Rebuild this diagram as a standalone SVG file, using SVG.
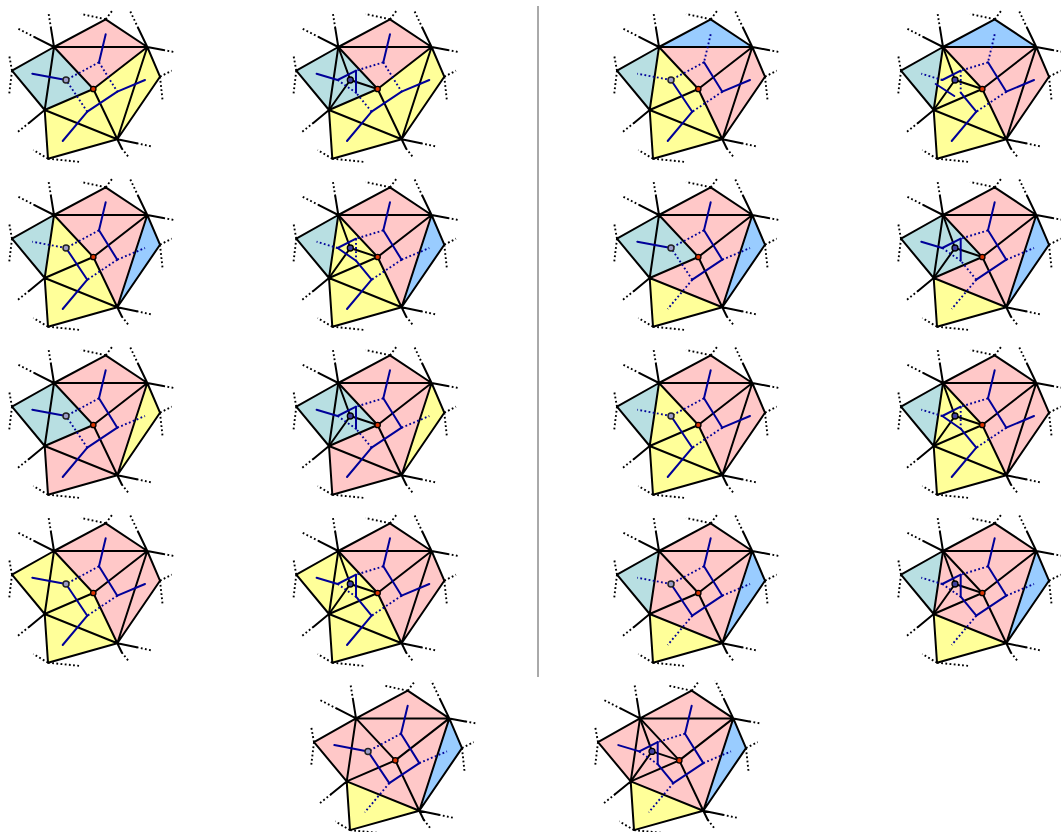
<svg xmlns="http://www.w3.org/2000/svg" width="1061" height="832" viewBox="0 0 1061 832">
<style>
.p{fill:#ffc8c8}.c{fill:#b8dfe2}.y{fill:#ffff99}.b{fill:#99ccff}
.k{fill:none;stroke:#000;stroke-width:2;stroke-linecap:round;stroke-linejoin:round}
.kd{fill:none;stroke:#000;stroke-width:1.9;stroke-dasharray:1.8 2.4}
.s{fill:none;stroke:#000099;stroke-width:2;stroke-linecap:round;stroke-linejoin:round}
.d{fill:none;stroke:#000099;stroke-width:1.9;stroke-dasharray:1.8 2.4}
.o{stroke:#000;stroke-width:1.3}
.pn{fill:#9c9cc8;stroke:#222;stroke-width:1.5}
.ps{fill:#4040a0;stroke:#000;stroke-width:1.3}
</style>
<defs>
<polygon id="fT" points="54,47 105.7,19.3 147.3,47"/>
<polygon id="fUC" points="54,47 147.3,47 93.3,89"/>
<polygon id="fL" points="12,70.7 54,47 44.7,110"/>
<polygon id="fU" points="54,47 93.3,89 44.7,110"/>
<polygon id="fLC" points="44.7,110 93.3,89 117.3,139.3"/>
<polygon id="fCAB" points="93.3,89 147.3,47 117.3,139.3"/>
<polygon id="fAR" points="147.3,47 160,76.7 117.3,139.3"/>
<polygon id="fB" points="44.7,110 117.3,139.3 48,158.7"/>
<g id="base">
<path class="k" d="M54,47L105.7,19.3L147.3,47L160,76.7L117.3,139.3L48,158.7L44.7,110L12,70.7L54,47ZM54,47H147.3L93.3,89L54,47L44.7,110L93.3,89L117.3,139.3L147.3,47M44.7,110L117.3,139.3M54,47L51,28.3M54,47L35,37.3M147.3,47L138.3,28.3M147.3,47L163.3,50M117.3,139.3L136.7,143.3M117.3,139.3L121.7,148.3M44.7,110L29.3,122.7"/>
<path class="kd" d="M51,28.3L48.3,11.7M35,37.3L17.3,28.3M105.7,19.3L81,14M105.7,19.3L113.3,9.3M138.3,28.3L129.3,9.3M163.3,50L175.7,52.3M160,76.7L171.7,70.7M160,76.7L162.7,101.7M136.7,143.3L152.7,146.7M121.7,148.3L128.3,156.7M48,158.7L33.3,150M48,158.7L80.7,162M29.3,122.7L16.7,132.7M12,70.7L9,54.3M12,70.7L9,95.7"/>
</g>
<path id="spk" class="k" d="M66,80L54,47M66,80L44.7,110M66,80L93.3,89"/>
<path id="e1" d="M105.7,34.3L99,62.3"/>
<path id="e2" d="M117.3,91.7L145,80"/>
<path id="e3" d="M87.3,111.7L62.7,141"/>
<path id="e4" d="M99,62.3L117.3,91.7"/>
<path id="e5" d="M117.3,91.7L87.3,111.7"/>
<path id="e6" d="M66,80L32.3,73.7"/>
<path id="e7" d="M99,62.3L66,80"/>
<path id="e8" d="M87.3,111.7L66,80"/>
<path id="e6x" d="M53.3,80L32.3,73.7"/>
<path id="e7x" d="M99,62.3L71.7,70.7"/>
<path id="e8x" d="M87.3,111.7L71.7,92.7"/>
<path id="e9" d="M71.7,70.7L53.3,80"/>
<path id="e10" d="M53.3,80L71.7,92.7"/>
<path id="e11" d="M71.7,70.7V92.7"/>
<g id="n"><circle class="pn" cx="66" cy="80" r="3"/><circle class="o" fill="#dd3300" cx="93.3" cy="89" r="2.7"/></g>
<g id="x"><circle class="ps" cx="66" cy="80" r="3"/><circle class="o" fill="#dd3300" cx="93.3" cy="89" r="2.7"/></g>
</defs>

<line id="divider" x1="538" y1="6" x2="538" y2="677" stroke="#555" stroke-width="1"/>

<g id="panel-r1c1" transform="translate(0,0)">
<use href="#fT" class="p"/><use href="#fUC" class="p"/><use href="#fL" class="c"/><use href="#fU" class="c"/><use href="#fLC" class="y"/><use href="#fCAB" class="y"/><use href="#fAR" class="y"/><use href="#fB" class="y"/>
<use href="#base"/>
<g class="s"><use href="#e1"/><use href="#e2"/><use href="#e3"/><use href="#e5"/><use href="#e6"/></g>
<g class="d"><use href="#e4"/><use href="#e7"/><use href="#e8"/></g>
<use href="#n"/>
</g>
<g id="panel-r1c2" transform="translate(284.3,0)">
<use href="#fT" class="p"/><use href="#fUC" class="p"/><use href="#fL" class="c"/><use href="#fU" class="c"/><use href="#fLC" class="y"/><use href="#fCAB" class="y"/><use href="#fAR" class="y"/><use href="#fB" class="y"/>
<use href="#base"/><use href="#spk"/>
<g class="s"><use href="#e1"/><use href="#e2"/><use href="#e3"/><use href="#e5"/><use href="#e6x"/><use href="#e9"/><use href="#e11"/></g>
<g class="d"><use href="#e4"/><use href="#e7x"/><use href="#e8x"/><use href="#e10"/></g>
<use href="#x"/>
</g>
<g id="panel-r1c3" transform="translate(605,0)">
<use href="#fT" class="b"/><use href="#fUC" class="p"/><use href="#fL" class="c"/><use href="#fU" class="y"/><use href="#fLC" class="y"/><use href="#fCAB" class="p"/><use href="#fAR" class="p"/><use href="#fB" class="y"/>
<use href="#base"/>
<g class="s"><use href="#e2"/><use href="#e3"/><use href="#e4"/><use href="#e8"/></g>
<g class="d"><use href="#e1"/><use href="#e5"/><use href="#e6"/><use href="#e7"/></g>
<use href="#n"/>
</g>
<g id="panel-r1c4" transform="translate(889,0)">
<use href="#fT" class="b"/><use href="#fUC" class="p"/><use href="#fL" class="c"/><use href="#fU" class="y"/><use href="#fLC" class="y"/><use href="#fCAB" class="p"/><use href="#fAR" class="p"/><use href="#fB" class="y"/>
<use href="#base"/><use href="#spk"/>
<g class="s"><use href="#e2"/><use href="#e3"/><use href="#e4"/><use href="#e8x"/><use href="#e9"/><path d="M46.7,84L65.3,96"/></g>
<g class="d"><use href="#e1"/><use href="#e5"/><use href="#e6x"/><use href="#e7x"/><use href="#e11"/></g>
<use href="#x"/>
</g>

<g id="panel-r2c1" transform="translate(0,168)">
<use href="#fT" class="p"/><use href="#fUC" class="p"/><use href="#fL" class="c"/><use href="#fU" class="y"/><use href="#fLC" class="y"/><use href="#fCAB" class="p"/><use href="#fAR" class="b"/><use href="#fB" class="y"/>
<use href="#base"/>
<g class="s"><use href="#e1"/><use href="#e3"/><use href="#e4"/><use href="#e8"/></g>
<g class="d"><use href="#e2"/><use href="#e5"/><use href="#e6"/><use href="#e7"/></g>
<use href="#n"/>
</g>
<g id="panel-r2c2" transform="translate(284.3,168)">
<use href="#fT" class="p"/><use href="#fUC" class="p"/><use href="#fL" class="c"/><use href="#fU" class="y"/><use href="#fLC" class="y"/><use href="#fCAB" class="p"/><use href="#fAR" class="b"/><use href="#fB" class="y"/>
<use href="#base"/><use href="#spk"/>
<g class="s"><use href="#e1"/><use href="#e3"/><use href="#e4"/><use href="#e8x"/><use href="#e9"/><use href="#e10"/></g>
<g class="d"><use href="#e2"/><use href="#e5"/><use href="#e6x"/><use href="#e7x"/><use href="#e11"/></g>
<use href="#x"/>
</g>
<g id="panel-r2c3" transform="translate(605,168)">
<use href="#fT" class="p"/><use href="#fUC" class="p"/><use href="#fL" class="c"/><use href="#fU" class="c"/><use href="#fLC" class="p"/><use href="#fCAB" class="p"/><use href="#fAR" class="b"/><use href="#fB" class="y"/>
<use href="#base"/>
<g class="s"><use href="#e1"/><use href="#e4"/><use href="#e5"/><use href="#e6"/></g>
<g class="d"><use href="#e2"/><use href="#e3"/><use href="#e7"/><use href="#e8"/></g>
<use href="#n"/>
</g>
<g id="panel-r2c4" transform="translate(889,168)">
<use href="#fT" class="p"/><use href="#fUC" class="p"/><use href="#fL" class="c"/><use href="#fU" class="c"/><use href="#fLC" class="p"/><use href="#fCAB" class="p"/><use href="#fAR" class="b"/><use href="#fB" class="y"/>
<use href="#base"/><use href="#spk"/>
<g class="s"><use href="#e1"/><use href="#e4"/><use href="#e5"/><use href="#e6x"/><use href="#e9"/><use href="#e11"/></g>
<g class="d"><use href="#e2"/><use href="#e3"/><use href="#e7x"/><use href="#e8x"/><use href="#e10"/></g>
<use href="#x"/>
</g>

<g id="panel-r3c1" transform="translate(0,336)">
<use href="#fT" class="p"/><use href="#fUC" class="p"/><use href="#fL" class="c"/><use href="#fU" class="c"/><use href="#fLC" class="p"/><use href="#fCAB" class="p"/><use href="#fAR" class="y"/><use href="#fB" class="p"/>
<use href="#base"/>
<g class="s"><use href="#e1"/><use href="#e3"/><use href="#e4"/><use href="#e5"/><use href="#e6"/></g>
<g class="d"><use href="#e2"/><use href="#e7"/><use href="#e8"/></g>
<use href="#n"/>
</g>
<g id="panel-r3c2" transform="translate(284.3,336)">
<use href="#fT" class="p"/><use href="#fUC" class="p"/><use href="#fL" class="c"/><use href="#fU" class="c"/><use href="#fLC" class="p"/><use href="#fCAB" class="p"/><use href="#fAR" class="y"/><use href="#fB" class="p"/>
<use href="#base"/><use href="#spk"/>
<g class="s"><use href="#e1"/><use href="#e3"/><use href="#e4"/><use href="#e5"/><use href="#e6x"/><use href="#e9"/><use href="#e11"/></g>
<g class="d"><use href="#e2"/><use href="#e7x"/><use href="#e8x"/><use href="#e10"/></g>
<use href="#x"/>
</g>
<g id="panel-r3c3" transform="translate(605,336)">
<use href="#fT" class="p"/><use href="#fUC" class="p"/><use href="#fL" class="c"/><use href="#fU" class="y"/><use href="#fLC" class="y"/><use href="#fCAB" class="p"/><use href="#fAR" class="p"/><use href="#fB" class="y"/>
<use href="#base"/>
<g class="s"><use href="#e1"/><use href="#e2"/><use href="#e3"/><use href="#e4"/><use href="#e8"/></g>
<g class="d"><use href="#e5"/><use href="#e6"/><use href="#e7"/></g>
<use href="#n"/>
</g>
<g id="panel-r3c4" transform="translate(889,336)">
<use href="#fT" class="p"/><use href="#fUC" class="p"/><use href="#fL" class="c"/><use href="#fU" class="y"/><use href="#fLC" class="y"/><use href="#fCAB" class="p"/><use href="#fAR" class="p"/><use href="#fB" class="y"/>
<use href="#base"/><use href="#spk"/>
<g class="s"><use href="#e1"/><use href="#e2"/><use href="#e3"/><use href="#e4"/><use href="#e8x"/><use href="#e9"/><use href="#e10"/></g>
<g class="d"><use href="#e5"/><use href="#e6x"/><use href="#e7x"/><use href="#e11"/></g>
<use href="#x"/>
</g>

<g id="panel-r4c1" transform="translate(0,504)">
<use href="#fT" class="p"/><use href="#fUC" class="p"/><use href="#fL" class="y"/><use href="#fU" class="y"/><use href="#fLC" class="y"/><use href="#fCAB" class="p"/><use href="#fAR" class="p"/><use href="#fB" class="y"/>
<use href="#base"/>
<g class="s"><use href="#e1"/><use href="#e2"/><use href="#e3"/><use href="#e4"/><use href="#e6"/><use href="#e8"/></g>
<g class="d"><use href="#e5"/><use href="#e7"/></g>
<use href="#n"/>
</g>
<g id="panel-r4c2" transform="translate(284.3,504)">
<use href="#fT" class="p"/><use href="#fUC" class="p"/><use href="#fL" class="y"/><use href="#fU" class="y"/><use href="#fLC" class="y"/><use href="#fCAB" class="p"/><use href="#fAR" class="p"/><use href="#fB" class="y"/>
<use href="#base"/><use href="#spk"/>
<g class="s"><use href="#e1"/><use href="#e2"/><use href="#e3"/><use href="#e4"/><use href="#e6x"/><use href="#e8x"/><use href="#e9"/><use href="#e11"/></g>
<g class="d"><use href="#e5"/><use href="#e7x"/><use href="#e10"/></g>
<use href="#x"/>
</g>
<g id="panel-r4c3" transform="translate(605,504)">
<use href="#fT" class="p"/><use href="#fUC" class="p"/><use href="#fL" class="c"/><use href="#fU" class="p"/><use href="#fLC" class="p"/><use href="#fCAB" class="p"/><use href="#fAR" class="b"/><use href="#fB" class="y"/>
<use href="#base"/>
<g class="s"><use href="#e1"/><use href="#e4"/><use href="#e5"/><use href="#e8"/></g>
<g class="d"><use href="#e2"/><use href="#e3"/><use href="#e6"/><use href="#e7"/></g>
<use href="#n"/>
</g>
<g id="panel-r4c4" transform="translate(889,504)">
<use href="#fT" class="p"/><use href="#fUC" class="p"/><use href="#fL" class="c"/><use href="#fU" class="p"/><use href="#fLC" class="p"/><use href="#fCAB" class="p"/><use href="#fAR" class="b"/><use href="#fB" class="y"/>
<use href="#base"/><use href="#spk"/>
<g class="s"><use href="#e1"/><use href="#e4"/><use href="#e5"/><use href="#e8x"/><use href="#e9"/><use href="#e11"/></g>
<g class="d"><use href="#e2"/><use href="#e3"/><use href="#e6x"/><use href="#e7x"/><use href="#e10"/></g>
<use href="#x"/>
</g>

<g id="panel-r5c1" transform="translate(302,671.4)">
<use href="#fT" class="p"/><use href="#fUC" class="p"/><use href="#fL" class="p"/><use href="#fU" class="p"/><use href="#fLC" class="p"/><use href="#fCAB" class="p"/><use href="#fAR" class="b"/><use href="#fB" class="y"/>
<use href="#base"/>
<g class="s"><use href="#e1"/><use href="#e4"/><use href="#e5"/><use href="#e6"/><use href="#e8"/></g>
<g class="d"><use href="#e2"/><use href="#e3"/><use href="#e7"/></g>
<use href="#n"/>
</g>
<g id="panel-r5c2" transform="translate(586,671.4)">
<use href="#fT" class="p"/><use href="#fUC" class="p"/><use href="#fL" class="p"/><use href="#fU" class="p"/><use href="#fLC" class="p"/><use href="#fCAB" class="p"/><use href="#fAR" class="b"/><use href="#fB" class="y"/>
<use href="#base"/><use href="#spk"/>
<g class="s"><use href="#e1"/><use href="#e4"/><use href="#e5"/><use href="#e6x"/><use href="#e8x"/><use href="#e9"/><use href="#e11"/></g>
<g class="d"><use href="#e2"/><use href="#e3"/><use href="#e7x"/><use href="#e10"/></g>
<use href="#x"/>
</g>
</svg>
